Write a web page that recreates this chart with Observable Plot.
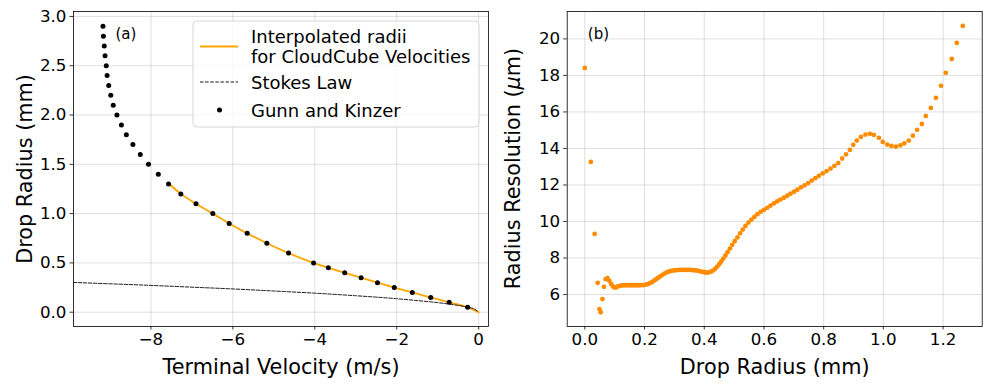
<!DOCTYPE html>
<html>
<head>
<meta charset="utf-8">
<script src="https://cdn.jsdelivr.net/npm/d3@7"></script>
<script src="https://cdn.jsdelivr.net/npm/@observablehq/plot@0.6"></script>
<style>
  body { margin: 0; background: #fff; }
  #fig { position: relative; width: 993px; height: 390px; font-family: "DejaVu Sans", sans-serif; }
  #fig > * { position: absolute; top: 0; }
</style>
</head>
<body>
<div id="fig"></div>
<script>
// ---------- Panel (a) data ----------
const gkRadius = [0.05,0.10,0.15,0.20,0.25,0.30,0.35,0.40,0.45,0.50,
  0.6,0.7,0.8,0.9,1.0,1.1,1.2,1.3,1.4,1.5,1.6,1.7,1.8,1.9,2.0,2.1,2.2,2.3,2.4,2.5,2.6,2.7,2.8,2.9];
const gkVelocity = [-0.27,-0.72,-1.17,-1.62,-2.06,-2.47,-2.87,-3.27,-3.67,-4.03,
  -4.64,-5.17,-5.65,-6.09,-6.49,-6.90,-7.27,-7.57,-7.82,-8.06,-8.26,-8.44,-8.60,-8.72,-8.83,-8.92,-8.98,-9.03,-9.07,-9.09,-9.12,-9.14,-9.16,-9.17];

const interpVelocity = [0,-0.27,-0.72,-1.17,-1.62,-2.06,-2.47,-2.87,-3.27,-3.67,-4.03,-4.64,-5.17,-5.65,-6.09,-6.49,-6.90,-7.27,-7.52];
const interpRadius   = [0,0.05,0.10,0.15,0.20,0.25,0.30,0.35,0.40,0.45,0.50,0.6,0.7,0.8,0.9,1.0,1.1,1.2,1.29];

const stokesVelocity = [-9.9,-9,-8,-7,-6,-5,-4,-3,-2,-1.5,-1,-0.6,-0.3,-0.1,0];
const stokesRadius   = [0.302,0.288,0.272,0.254,0.236,0.215,0.193,0.167,0.137,0.118,0.097,0.075,0.053,0.031,0];

const aXTicks = [-8,-6,-4,-2,0];
const aYTicks = [0,0.5,1,1.5,2,2.5,3];

// ---------- Panel (b) data ----------
const resRadius = [0.000,0.020,0.033,0.043,0.049,0.053,0.059,0.064,0.070,0.076,0.082,0.088,0.094,0.100,0.106,0.113,0.120,0.127,0.134,0.141,
  0.148,0.155,0.162,0.169,0.176,0.183,0.190,0.197,0.204,0.211,0.218,0.225,0.232,0.239,0.246,0.253,0.260,0.267,0.274,0.281,
  0.288,0.295,0.302,0.310,0.317,0.324,0.331,0.338,0.345,0.352,0.359,0.366,0.373,0.380,0.387,0.394,0.401,0.408,0.415,0.422,
  0.429,0.436,0.443,0.450,0.457,0.464,0.471,0.478,0.486,0.494,0.502,0.511,0.520,0.529,0.538,0.548,0.558,0.568,0.578,0.589,
  0.600,0.611,0.622,0.633,0.644,0.655,0.667,0.678,0.689,0.701,0.712,0.724,0.736,0.748,0.760,0.772,0.784,0.797,0.810,0.823,
  0.836,0.849,0.862,0.875,0.888,0.899,0.911,0.925,0.940,0.955,0.968,0.985,0.998,1.013,1.027,1.042,1.057,1.070,1.085,1.099,
  1.113,1.129,1.142,1.159,1.176,1.193,1.209,1.229,1.246,1.266];
const resResolution = [18.41,13.26,9.32,6.64,5.20,5.03,5.75,6.42,6.84,6.90,6.75,6.58,6.44,6.38,6.40,6.46,6.49,6.50,6.51,6.51,
  6.51,6.51,6.51,6.51,6.51,6.51,6.52,6.52,6.54,6.57,6.62,6.68,6.76,6.84,6.92,7.00,7.08,7.15,7.21,7.26,
  7.29,7.31,7.33,7.34,7.35,7.35,7.35,7.35,7.35,7.35,7.34,7.33,7.32,7.30,7.27,7.24,7.22,7.20,7.21,7.25,
  7.31,7.40,7.52,7.66,7.81,7.97,8.14,8.32,8.52,8.72,8.92,9.13,9.35,9.56,9.76,9.94,10.10,10.25,10.40,10.53,
  10.64,10.75,10.87,10.99,11.10,11.20,11.30,11.41,11.52,11.63,11.74,11.87,11.98,12.10,12.24,12.37,12.50,12.64,12.76,12.90,
  13.05,13.20,13.45,13.68,13.92,14.20,14.43,14.63,14.76,14.80,14.74,14.58,14.36,14.21,14.14,14.10,14.17,14.28,14.43,14.70,
  15.02,15.34,15.78,16.22,16.77,17.43,18.14,18.90,19.78,20.71];

const bXTicks = [0,0.2,0.4,0.6,0.8,1.0,1.2];
const bYTicks = [6,8,10,12,14,16,18,20];

// ---------- build ----------
const gk = gkRadius.map((r,i)=>({v: gkVelocity[i], r}));
const interp = interpRadius.map((r,i)=>({v: interpVelocity[i], r}));
const stokes = stokesRadius.map((r,i)=>({v: stokesVelocity[i], r}));
const res = resRadius.map((x,i)=>({x, y: resResolution[i]}));

const gridStyle = {stroke: "#b0b0b0", strokeOpacity: 0.5, strokeWidth: 0.8};
const axisStyle = {tickSize: 3.5, tickPadding: 3.5, label: null, stroke: "black", strokeWidth: 0.8};
const fig = document.getElementById("fig");

const plotA = Plot.plot({
  width: 500, height: 390,
  marginLeft: 73, marginRight: 12, marginTop: 11, marginBottom: 64,
  style: {fontFamily: "DejaVu Sans, sans-serif", fontSize: "16.7px", color: "black", background: "transparent"},
  x: {domain: [-9.89, 0.24]},
  y: {domain: [-0.145, 3.05]},
  marks: [
    Plot.gridX(aXTicks, gridStyle),
    Plot.gridY(aYTicks, gridStyle),
    Plot.line(interp, {x: "v", y: "r", stroke: "orange", strokeWidth: 1.8, curve: "monotone-y"}),
    Plot.line(stokes, {x: "v", y: "r", stroke: "black", strokeWidth: 0.9, strokeDasharray: "3.5,1.6", curve: "monotone-x", clip: true}),
    Plot.dot(gk, {x: "v", y: "r", r: 2.5, fill: "black", stroke: "none"}),
    Plot.frame({stroke: "black", strokeWidth: 0.8}),
    Plot.axisX({...axisStyle, ticks: aXTicks}),
    Plot.axisY({...axisStyle, ticks: aYTicks, tickFormat: d3.format(".1f")}),
    Plot.text(["(a)"], {frameAnchor: "top-left", dx: 42, dy: 17, fontSize: 15, textAnchor: "start", lineAnchor: "top"}),
    Plot.text(["Terminal Velocity (m/s)"], {frameAnchor: "bottom", dy: 47, fontSize: 20.8, lineAnchor: "bottom"}),
    Plot.text(["Drop Radius (mm)"], {frameAnchor: "left", dx: -48, rotate: -90, fontSize: 20.8, textAnchor: "middle", lineAnchor: "middle"})
  ]
});
plotA.style.left = "0px";
fig.appendChild(plotA);

const plotB = Plot.plot({
  width: 493, height: 390,
  marginLeft: 66.7, marginRight: 11.3, marginTop: 11, marginBottom: 64,
  style: {fontFamily: "DejaVu Sans, sans-serif", fontSize: "16.7px", color: "black", background: "transparent"},
  x: {domain: [-0.059, 1.331]},
  y: {domain: [4.25, 21.5]},
  marks: [
    Plot.gridX(bXTicks, gridStyle),
    Plot.gridY(bYTicks, gridStyle),
    Plot.dot(res, {x: "x", y: "y", r: 2.4, fill: "darkorange", stroke: "none"}),
    Plot.frame({stroke: "black", strokeWidth: 0.8}),
    Plot.axisX({...axisStyle, ticks: bXTicks, tickFormat: d3.format(".1f")}),
    Plot.axisY({...axisStyle, ticks: bYTicks}),
    Plot.text(["(b)"], {frameAnchor: "top-left", dx: 20.6, dy: 17, fontSize: 15, textAnchor: "start", lineAnchor: "top"}),
    Plot.text(["Drop Radius (mm)"], {frameAnchor: "bottom", dy: 47, fontSize: 20.8, lineAnchor: "bottom"})
  ]
});
plotB.style.left = "500px";
fig.appendChild(plotB);

// y label with italic mu for panel (b)
{
  const svg = d3.select(plotB);
  const cy = (11 + 326) / 2;
  const t = svg.append("text")
    .attr("transform", `translate(13.3,${cy}) rotate(-90)`)
    .attr("text-anchor", "middle").attr("dy", "0.32em")
    .attr("font-size", 20.8).attr("font-family", "DejaVu Sans, sans-serif").attr("fill", "black");
  t.append("tspan").text("Radius Resolution (");
  t.append("tspan").attr("font-style", "italic").text("μ");
  t.append("tspan").text("m)");
}

// legend for panel (a)
{
  const lg = d3.select(fig).append("svg")
    .attr("width", 993).attr("height", 390)
    .style("left", "0px").style("pointer-events", "none");
  lg.append("rect").attr("x", 193).attr("y", 21).attr("width", 286).attr("height", 106)
    .attr("rx", 4).attr("fill", "white").attr("fill-opacity", 0.8).attr("stroke", "#cccccc").attr("stroke-width", 0.8);
  const tx = 251, fs = 18;
  const g = lg.append("g").attr("font-family", "DejaVu Sans, sans-serif").attr("font-size", fs).attr("fill", "black");
  g.append("line").attr("x1", 200).attr("x2", 238).attr("y1", 46.5).attr("y2", 46.5).attr("stroke", "orange").attr("stroke-width", 1.8);
  g.append("text").attr("x", tx).attr("y", 36.5).attr("dy", "0.35em").text("Interpolated radii");
  g.append("text").attr("x", tx).attr("y", 57).attr("dy", "0.35em").text("for CloudCube Velocities");
  g.append("line").attr("x1", 200).attr("x2", 238).attr("y1", 82).attr("y2", 82).attr("stroke", "black").attr("stroke-width", 0.9).attr("stroke-dasharray", "3.5,1.6");
  g.append("text").attr("x", tx).attr("y", 83).attr("dy", "0.35em").text("Stokes Law");
  g.append("circle").attr("cx", 219.5).attr("cy", 110).attr("r", 2.5).attr("fill", "black");
  g.append("text").attr("x", tx).attr("y", 110.5).attr("dy", "0.35em").text("Gunn and Kinzer");
}
</script>
</body>
</html>
